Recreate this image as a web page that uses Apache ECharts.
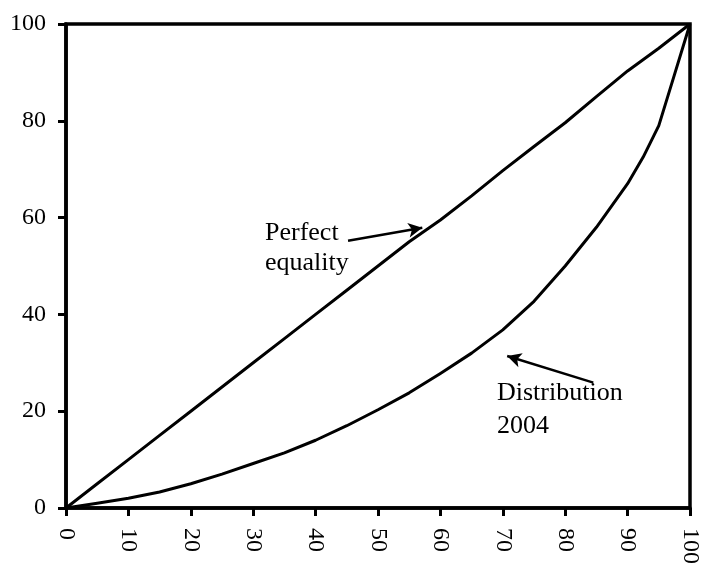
<!DOCTYPE html>
<html>
<head>
<meta charset="utf-8">
<script src="https://cdn.jsdelivr.net/npm/echarts@6/dist/echarts.min.js"></script>
<style>
  html, body { margin: 0; padding: 0; background: #fff; }
  #main { width: 702px; height: 567px; }
</style>
</head>
<body>
<div id="main"></div>
<script>
// population share (%) on x, income share (%) on y
var xTicks = [0, 10, 20, 30, 40, 50, 60, 70, 80, 90, 100];
var yTicks = [0, 20, 40, 60, 80, 100];

var equalityX = [0, 5, 10, 15, 20, 25, 30, 35, 40, 45, 50, 55, 60, 65, 70, 75, 80, 85, 90, 95, 100];
var equalityY = [0, 5, 10, 15, 20, 25, 30, 35, 40, 45, 50, 55, 59.5, 64.5, 69.7, 74.7, 79.6, 85, 90.3, 95, 100];

var distX = [0, 5, 10, 15, 20, 25, 30, 35, 40, 45, 50, 55, 60, 65, 70, 75, 80, 85, 90, 92.5, 95, 97.5, 100];
var distY = [0, 1, 2, 3.3, 5, 7, 9.2, 11.4, 14, 17, 20.3, 23.8, 27.8, 32, 36.8, 42.7, 50, 58, 67, 72.5, 79, 89.5, 100];

// annotation arrows: [tail, head] in data units
var equalityArrow = [[45.2, 55.2], [57.1, 57.9]];
var distArrow = [[84.5, 25.9], [70.7, 31.4]];

function pairs(xs, ys) {
    var out = [];
    for (var i = 0; i < xs.length; i++) out.push([xs[i], ys[i]]);
    return out;
}

var font = '"Liberation Serif", "Times New Roman", serif';
var myChart = echarts.init(document.getElementById('main'));

var arrowLine = function (a) {
    return {
        silent: true,
        symbol: ['none', 'arrow'],
        symbolSize: [11, 14],
        label: { show: false },
        lineStyle: { color: '#000', width: 2.5, type: 'solid' },
        data: [[{ coord: a[0] }, { coord: a[1] }]]
    };
};

option = {
    animation: false,
    backgroundColor: '#fff',
    grid: {
        left: 66, right: 12, top: 24, bottom: 56,
        show: true, borderColor: '#000', borderWidth: 3.5
    },
    xAxis: {
        type: 'value',
        min: xTicks[0], max: xTicks[xTicks.length - 1], interval: 10,
        axisLine: { lineStyle: { color: '#000', width: 3.5 } },
        axisTick: { length: 8, lineStyle: { color: '#000', width: 3 } },
        splitLine: { show: false },
        axisLabel: {
            rotate: -90, margin: 20, color: '#000',
            fontFamily: font, fontSize: 24
        }
    },
    yAxis: {
        type: 'value',
        min: yTicks[0], max: yTicks[yTicks.length - 1], interval: 20,
        axisLine: { show: true, lineStyle: { color: '#000', width: 3.5 } },
        axisTick: { show: true, length: 8, lineStyle: { color: '#000', width: 3 } },
        splitLine: { show: false },
        axisLabel: { margin: 20, color: '#000', fontFamily: font, fontSize: 24 }
    },
    series: [
        {
            name: 'Perfect equality',
            type: 'line',
            data: pairs(equalityX, equalityY),
            showSymbol: false,
            lineStyle: { color: '#000', width: 3 },
            markLine: arrowLine(equalityArrow)
        },
        {
            name: 'Distribution 2004',
            type: 'line',
            data: pairs(distX, distY),
            showSymbol: false,
            lineStyle: { color: '#000', width: 3, join: 'round' },
            markLine: arrowLine(distArrow)
        }
    ],
    graphic: [
        {
            type: 'text', left: 265, top: 218,
            style: { text: 'Perfect\nequality', font: '26px ' + font, fill: '#000', lineHeight: 30 }
        },
        {
            type: 'text', left: 497, top: 377,
            style: { text: 'Distribution\n2004', font: '26px ' + font, fill: '#000', lineHeight: 33 }
        }
    ]
};

myChart.setOption(option);
</script>
</body>
</html>
